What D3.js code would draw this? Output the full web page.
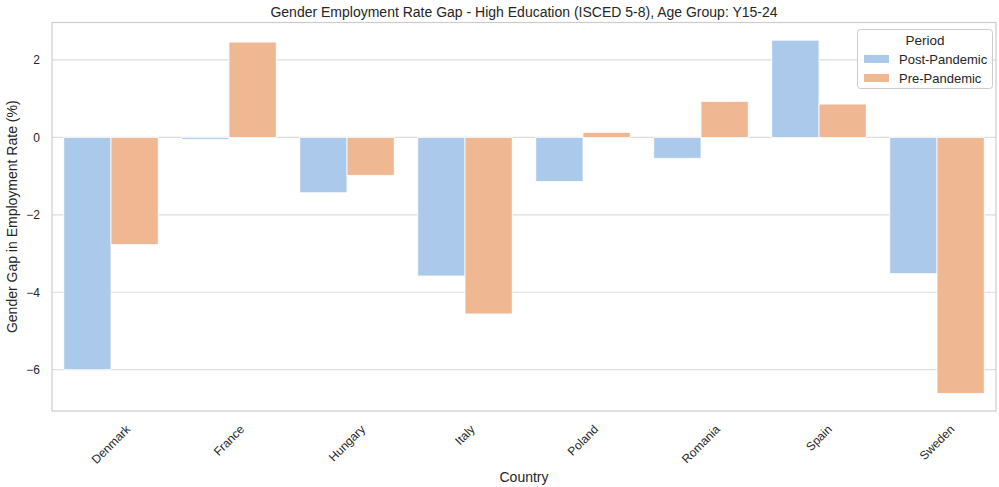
<!DOCTYPE html>
<html><head><meta charset="utf-8">
<script src="https://cdn.jsdelivr.net/npm/d3@7"></script>
<style>body{margin:0;background:#fff;} text{font-family:"Liberation Sans",Arial,sans-serif;fill:#262626;}</style>
</head><body><svg id="c" width="999" height="487"></svg>
<script>
const countries = ["Denmark","France","Hungary","Italy","Poland","Romania","Spain","Sweden"];
const periods = ["Post-Pandemic","Pre-Pandemic"];
const postPandemic = [-6.0, -0.05, -1.43, -3.58, -1.14, -0.54, 2.51, -3.52];
const prePandemic = [-2.77, 2.46, -0.98, -4.56, 0.13, 0.93, 0.86, -6.61];
const yTicks = [-6,-4,-2,0,2];
const colors = ["#abc9ea","#efb792"];
const titleText = "Gender Employment Rate Gap - High Education (ISCED 5-8), Age Group: Y15-24";

const svg = d3.select("#c");
const L=52, R=996, T=22.5, B=411;
const x = d3.scaleBand().domain(countries).range([L,R]).paddingInner(0).paddingOuter(0);
const xs = d3.scaleBand().domain(periods).range([0,x.bandwidth()]).paddingInner(0).paddingOuter(0.25);
const all = postPandemic.concat(prePandemic);
const mn = d3.min(all), mx = d3.max(all), m=(mx-mn)*0.05;
const y = d3.scaleLinear().domain([mn-m, mx+m]).range([B,T]);

// grid
svg.append("g").selectAll("line").data(yTicks).join("line")
  .attr("x1",L).attr("x2",R).attr("y1",d=>y(d)).attr("y2",d=>y(d))
  .attr("stroke","#dddddd").attr("stroke-width",1.2);

const series = [postPandemic, prePandemic];
series.forEach((vals,si)=>{
  svg.append("g").selectAll("rect").data(countries).join("rect")
    .attr("x",(c)=>x(c)+xs(periods[si]))
    .attr("width",xs.bandwidth())
    .attr("y",(c,i)=>y(Math.max(0,vals[i])))
    .attr("height",(c,i)=>Math.abs(y(vals[i])-y(0)))
    .attr("fill",colors[si]).attr("stroke","#fff").attr("stroke-width",0.8);
});

// frame
svg.append("rect").attr("x",L).attr("y",T).attr("width",R-L).attr("height",B-T)
  .attr("fill","none").attr("stroke","#cccccc").attr("stroke-width",1.2);

// y axis ticks
const yAxis = d3.axisLeft(y).tickValues(yTicks).tickSize(0).tickPadding(12).tickFormat(d=>d<0?"\u2212"+Math.abs(d):d);
const ya = svg.append("g").attr("transform",`translate(${L},0)`).call(yAxis);
ya.select(".domain").remove();
ya.selectAll("text").attr("font-size",12).attr("fill","#262626").style("font-family","Liberation Sans, Arial, sans-serif");

// x axis labels
const xa = svg.append("g");
countries.forEach(c=>{
  const cx = x(c)+x.bandwidth()/2;
  const t = xa.append("text").text(c).attr("font-size",12).attr("text-anchor","middle").attr("dominant-baseline","central");
  const w = t.node().getComputedTextLength();
  const h = 12;
  const cy = 423 + (w+h)/Math.SQRT2/2;
  t.attr("transform",`translate(${cx},${cy}) rotate(-45)`);
});

// title & labels
svg.append("text").attr("x",(L+R)/2).attr("y",17).attr("text-anchor","middle").attr("font-size",14).text(titleText);
svg.append("text").attr("x",(L+R)/2).attr("y",482).attr("text-anchor","middle").attr("font-size",14).text("Country");
svg.append("text").attr("transform",`translate(17,${(T+B)/2}) rotate(-90)`).attr("text-anchor","middle").attr("font-size",14).text("Gender Gap in Employment Rate (%)");

// legend
const lg = svg.append("g");
lg.append("rect").attr("x",857.5).attr("y",29.5).attr("width",135).attr("height",59).attr("rx",3)
  .attr("fill","rgba(255,255,255,0.8)").attr("stroke","#cccccc").attr("stroke-width",1);
lg.append("text").attr("x",925).attr("y",45).attr("text-anchor","middle").attr("font-size",13.5).text("Period");
periods.forEach((p,i)=>{
  const yy = 59 + i*19;
  lg.append("rect").attr("x",864).attr("y",yy-4).attr("width",25).attr("height",8).attr("fill",colors[i]);
  lg.append("text").attr("x",899).attr("y",yy).attr("dominant-baseline","central").attr("font-size",13).text(p);
});
</script></body></html>
